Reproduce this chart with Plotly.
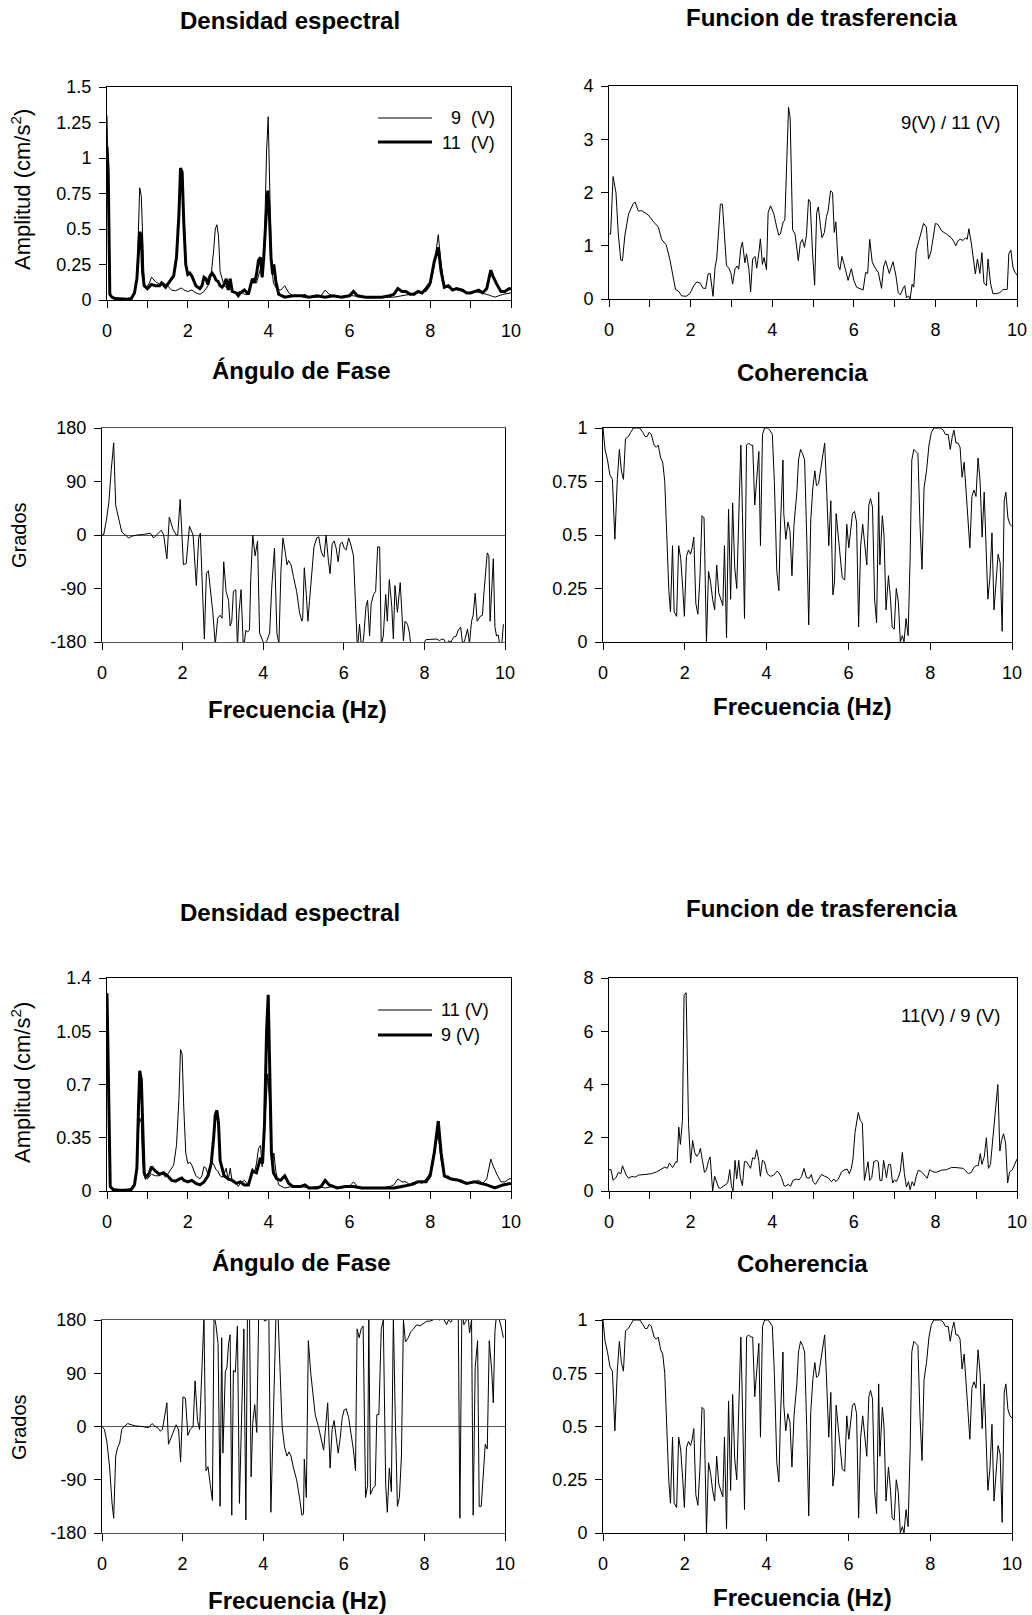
import plotly.graph_objects as go

W, H = 1032, 1615
FONT = "Liberation Sans, Arial, sans-serif"

# ---------------- data ----------------
freq_ticks_even = [0, 2, 4, 6, 8, 10]
freq_ticks_odd = [1, 3, 5, 7, 9]

dens_9 = [(0,1.30),(0.04,0.6),(0.08,0.03),(0.15,0.01),(0.3,0.005),(0.45,0.005),(0.6,0.01),(0.68,0.04),(0.74,0.15),(0.78,0.55),(0.81,0.79),(0.85,0.73),(0.88,0.4),(0.92,0.12),(0.96,0.09),(1.0,0.1),(1.05,0.12),(1.1,0.16),(1.2,0.13),(1.3,0.11),(1.4,0.12),(1.5,0.1),(1.6,0.07),(1.7,0.065),(1.8,0.08),(1.85,0.085),(1.9,0.07),(2.0,0.06),(2.1,0.07),(2.2,0.05),(2.3,0.04),(2.4,0.06),(2.5,0.1),(2.58,0.18),(2.64,0.35),(2.68,0.5),(2.72,0.53),(2.76,0.45),(2.8,0.2),(2.85,0.15),(2.9,0.1),(3.0,0.08),(3.1,0.07),(3.2,0.05),(3.3,0.06),(3.4,0.04),(3.5,0.04),(3.6,0.13),(3.7,0.12),(3.8,0.22),(3.85,0.18),(3.9,0.45),(3.95,1.05),(3.99,1.29),(4.03,0.8),(4.07,0.25),(4.12,0.12),(4.2,0.08),(4.3,0.07),(4.4,0.1),(4.5,0.05),(4.6,0.03),(4.8,0.03),(4.9,0.04),(5.0,0.02),(5.2,0.02),(5.3,0.03),(5.4,0.07),(5.5,0.04),(5.7,0.02),(5.9,0.03),(6.1,0.03),(6.3,0.02),(6.5,0.02),(6.7,0.02),(6.9,0.02),(7.1,0.02),(7.3,0.03),(7.5,0.04),(7.7,0.06),(7.9,0.06),(8.0,0.1),(8.1,0.25),(8.2,0.46),(8.27,0.25),(8.35,0.1),(8.5,0.08),(8.7,0.07),(8.9,0.05),(9.1,0.06),(9.3,0.05),(9.4,0.04),(9.5,0.03),(9.6,0.02),(9.8,0.04),(10,0.05)]

dens_11 = [(0,1.08),(0.03,0.9),(0.07,0.04),(0.12,0.02),(0.2,0.01),(0.35,0.005),(0.5,0.005),(0.6,0.01),(0.68,0.05),(0.74,0.15),(0.78,0.4),(0.81,0.48),(0.85,0.45),(0.88,0.2),(0.92,0.1),(1.0,0.08),(1.1,0.11),(1.2,0.1),(1.3,0.1),(1.35,0.12),(1.45,0.09),(1.55,0.13),(1.65,0.17),(1.72,0.3),(1.78,0.6),(1.82,0.93),(1.86,0.9),(1.9,0.55),(1.95,0.25),(2.0,0.18),(2.05,0.19),(2.1,0.17),(2.2,0.1),(2.3,0.08),(2.35,0.1),(2.4,0.16),(2.45,0.15),(2.5,0.11),(2.55,0.17),(2.6,0.19),(2.65,0.17),(2.7,0.14),(2.75,0.13),(2.8,0.1),(2.85,0.09),(2.9,0.11),(2.95,0.15),(3.0,0.07),(3.05,0.15),(3.1,0.06),(3.2,0.05),(3.25,0.03),(3.3,0.05),(3.4,0.07),(3.5,0.04),(3.55,0.1),(3.6,0.15),(3.65,0.12),(3.7,0.18),(3.75,0.28),(3.8,0.3),(3.84,0.16),(3.88,0.3),(3.93,0.55),(3.98,0.77),(4.02,0.6),(4.06,0.3),(4.1,0.18),(4.13,0.25),(4.18,0.13),(4.25,0.04),(4.4,0.02),(4.6,0.03),(4.8,0.03),(5.0,0.02),(5.2,0.03),(5.4,0.02),(5.6,0.03),(5.8,0.02),(6.0,0.03),(6.1,0.06),(6.2,0.03),(6.4,0.02),(6.6,0.02),(6.8,0.02),(7.0,0.03),(7.1,0.04),(7.2,0.08),(7.3,0.06),(7.4,0.06),(7.5,0.04),(7.6,0.04),(7.7,0.06),(7.8,0.05),(7.9,0.08),(8.0,0.12),(8.1,0.27),(8.2,0.37),(8.27,0.2),(8.35,0.09),(8.45,0.1),(8.55,0.07),(8.65,0.08),(8.8,0.07),(8.9,0.05),(9.0,0.05),(9.1,0.06),(9.2,0.07),(9.3,0.05),(9.4,0.08),(9.5,0.21),(9.55,0.17),(9.65,0.11),(9.75,0.06),(9.85,0.06),(9.95,0.08),(10,0.08)]

transfer_9_11 = [(0,1.22),(0.04,1.22),(0.1,2.3),(0.17,2.0),(0.23,1.2),(0.29,0.73),(0.33,0.72),(0.39,1.2),(0.48,1.6),(0.6,1.8),(0.64,1.82),(0.72,1.65),(0.8,1.66),(0.96,1.58),(1.09,1.45),(1.21,1.35),(1.29,1.12),(1.4,1.02),(1.49,0.75),(1.58,0.35),(1.63,0.18),(1.7,0.15),(1.78,0.06),(1.89,0.05),(1.98,0.1),(2.08,0.25),(2.15,0.32),(2.23,0.3),(2.31,0.2),(2.37,0.2),(2.43,0.47),(2.48,0.48),(2.55,0.05),(2.6,0.6),(2.64,0.75),(2.73,1.78),(2.78,1.78),(2.88,0.62),(2.94,0.58),(2.99,0.48),(3.03,0.28),(3.09,0.57),(3.14,0.62),(3.18,0.56),(3.23,0.95),(3.27,1.07),(3.33,0.68),(3.37,0.85),(3.43,0.55),(3.47,0.13),(3.52,0.75),(3.58,0.8),(3.62,0.58),(3.67,0.85),(3.71,1.13),(3.76,0.65),(3.8,0.78),(3.86,0.55),(3.9,1.62),(3.96,1.75),(4.04,1.6),(4.11,1.35),(4.16,1.2),(4.2,1.22),(4.27,1.45),(4.31,1.48),(4.35,2.6),(4.4,3.6),(4.44,3.4),(4.5,1.3),(4.56,1.22),(4.6,0.95),(4.64,0.72),(4.69,1.05),(4.74,1.12),(4.79,0.97),(4.84,1.2),(4.89,1.87),(4.93,1.83),(4.99,0.85),(5.04,0.26),(5.09,1.62),(5.13,1.73),(5.18,1.4),(5.22,1.15),(5.28,1.25),(5.33,1.55),(5.37,1.65),(5.43,2.03),(5.48,2.0),(5.52,1.25),(5.56,1.45),(5.62,0.62),(5.66,0.55),(5.71,0.8),(5.78,0.6),(5.86,0.35),(5.94,0.57),(6.0,0.35),(6.07,0.22),(6.15,0.2),(6.23,0.17),(6.29,0.5),(6.34,0.48),(6.39,1.12),(6.45,0.7),(6.51,0.6),(6.6,0.5),(6.68,0.2),(6.73,0.6),(6.78,0.72),(6.87,0.48),(6.96,0.7),(7.03,0.45),(7.09,0.12),(7.14,0.08),(7.21,0.2),(7.25,0.25),(7.29,0.02),(7.34,0.06),(7.38,0.0),(7.43,0.28),(7.47,0.22),(7.53,0.9),(7.58,1.05),(7.66,1.25),(7.71,1.42),(7.78,1.35),(7.83,0.75),(7.89,0.88),(7.94,1.1),(8.0,1.42),(8.06,1.4),(8.15,1.28),(8.27,1.22),(8.39,1.15),(8.45,1.08),(8.5,1.0),(8.56,1.1),(8.61,1.12),(8.68,1.1),(8.74,1.15),(8.78,1.12),(8.82,1.32),(8.88,1.05),(8.94,0.7),(8.98,0.47),(9.03,0.75),(9.09,0.48),(9.14,0.87),(9.19,0.3),(9.25,0.25),(9.29,0.75),(9.35,0.3),(9.41,0.1),(9.49,0.1),(9.58,0.12),(9.66,0.18),(9.76,0.18),(9.8,0.85),(9.85,0.92),(9.9,0.6),(9.95,0.5),(10,0.45)]

transfer_11_9 = [(0,0.8),(0.05,0.8),(0.1,0.4),(0.17,0.5),(0.23,0.7),(0.29,0.65),(0.33,0.95),(0.42,0.6),(0.48,0.48),(0.56,0.55),(0.64,0.52),(0.73,0.6),(0.88,0.62),(1.04,0.65),(1.17,0.72),(1.29,0.82),(1.37,0.9),(1.43,0.85),(1.48,1.05),(1.56,0.88),(1.64,1.1),(1.67,1.08),(1.71,2.4),(1.75,1.75),(1.8,2.65),(1.84,7.35),(1.89,7.45),(1.95,2.5),(2.0,1.05),(2.05,1.9),(2.1,1.45),(2.15,1.3),(2.2,1.4),(2.24,1.6),(2.29,1.1),(2.34,0.7),(2.39,0.8),(2.44,1.15),(2.48,1.28),(2.54,0.0),(2.59,0.55),(2.64,0.35),(2.69,0.12),(2.73,0.1),(2.8,0.18),(2.87,0.25),(2.91,0.3),(2.96,0.8),(3.0,0.2),(3.04,0.0),(3.09,1.15),(3.13,0.45),(3.18,1.15),(3.22,0.5),(3.27,0.2),(3.32,1.1),(3.37,1.1),(3.43,0.95),(3.47,0.85),(3.52,1.25),(3.57,1.2),(3.62,1.55),(3.67,1.15),(3.71,0.55),(3.76,1.15),(3.81,1.1),(3.88,0.65),(3.96,0.55),(4.04,0.6),(4.12,0.75),(4.17,0.68),(4.23,0.5),(4.29,0.2),(4.33,0.18),(4.39,0.25),(4.45,0.18),(4.51,0.4),(4.6,0.45),(4.66,0.42),(4.72,0.55),(4.78,0.85),(4.84,0.5),(4.91,0.48),(4.96,0.62),(5.0,0.35),(5.06,0.25),(5.13,0.45),(5.21,0.62),(5.29,0.55),(5.37,0.5),(5.45,0.35),(5.51,0.45),(5.56,0.35),(5.62,0.45),(5.7,0.72),(5.78,0.8),(5.84,0.82),(5.89,0.65),(5.94,0.85),(5.98,1.2),(6.03,2.2),(6.07,2.6),(6.11,2.95),(6.16,2.65),(6.21,2.55),(6.26,0.4),(6.31,0.75),(6.35,1.1),(6.39,0.4),(6.44,0.5),(6.49,1.1),(6.56,1.15),(6.6,1.1),(6.64,0.4),(6.69,0.4),(6.73,1.15),(6.77,0.8),(6.8,0.5),(6.85,1.0),(6.9,1.0),(6.95,0.3),(7.0,0.42),(7.04,0.35),(7.09,0.5),(7.14,0.75),(7.19,1.45),(7.24,0.65),(7.29,0.15),(7.34,0.35),(7.38,0.05),(7.43,0.35),(7.48,0.2),(7.53,0.55),(7.58,0.78),(7.66,0.72),(7.74,0.6),(7.8,0.48),(7.86,0.8),(7.94,0.72),(8.02,0.7),(8.15,0.78),(8.27,0.8),(8.39,0.88),(8.51,0.88),(8.68,0.85),(8.81,0.65),(8.88,0.7),(8.95,0.9),(9.0,0.95),(9.05,0.95),(9.1,1.4),(9.14,1.0),(9.2,1.3),(9.25,2.0),(9.3,0.85),(9.35,1.0),(9.41,2.0),(9.48,3.1),(9.53,4.0),(9.58,1.5),(9.62,1.9),(9.67,2.15),(9.72,1.8),(9.77,0.3),(9.82,0.72),(9.88,0.78),(9.94,1.0),(10,1.2)]

phase_9_11 = [(0.0,0),(0.04,0),(0.11,25),(0.17,55),(0.23,110),(0.29,155),(0.34,50),(0.39,35),(0.44,25),(0.49,5),(0.58,0),(0.66,-5),(0.74,-2),(0.87,0),(1.03,1),(1.2,3),(1.28,-5),(1.36,0),(1.47,8),(1.53,0),(1.61,-40),(1.67,30),(1.76,10),(1.84,0),(1.88,0),(1.94,60),(2.02,-50),(2.09,-48),(2.17,15),(2.26,0),(2.34,-85),(2.4,-5),(2.44,3),(2.54,-175),(2.59,-65),(2.64,-60),(2.7,-95),(2.75,-130),(2.81,-185),(2.87,-140),(2.93,-135),(2.98,-140),(3.02,-45),(3.08,-95),(3.14,-110),(3.18,-153),(3.22,-145),(3.26,-95),(3.32,-92),(3.36,-190),(3.4,-130),(3.45,-92),(3.51,-193),(3.57,-160),(3.61,-163),(3.66,-160),(3.69,-75),(3.74,0),(3.8,-35),(3.86,-10),(3.91,-165),(3.97,-175),(4.02,-183),(4.09,-178),(4.16,-165),(4.21,-90),(4.28,-22),(4.34,-165),(4.39,-183),(4.44,-60),(4.49,-5),(4.55,-30),(4.59,-50),(4.63,-43),(4.69,-50),(4.75,-70),(4.83,-95),(4.9,-130),(4.96,-145),(4.98,-140),(5.02,-55),(5.07,-100),(5.11,-145),(5.15,-110),(5.21,-60),(5.26,-20),(5.33,-5),(5.38,-3),(5.43,-25),(5.48,-35),(5.51,-37),(5.56,0),(5.62,-45),(5.66,-65),(5.71,-15),(5.76,-10),(5.81,-22),(5.86,-45),(5.91,-15),(5.96,-12),(6.01,-22),(6.06,-25),(6.12,-5),(6.17,-15),(6.24,-35),(6.29,-110),(6.34,-195),(6.39,-150),(6.44,-190),(6.49,-175),(6.55,-120),(6.59,-110),(6.64,-170),(6.68,-115),(6.74,-100),(6.79,-95),(6.84,-20),(6.89,-20),(6.93,-185),(6.98,-170),(7.04,-100),(7.08,-145),(7.13,-75),(7.19,-120),(7.23,-175),(7.27,-85),(7.33,-130),(7.4,-80),(7.44,-120),(7.48,-178),(7.52,-145),(7.58,-150),(7.63,-165),(7.67,-192),(7.73,-188),(7.81,-183),(7.89,-185),(7.98,-182),(8.04,-176),(8.14,-176),(8.22,-176),(8.31,-175),(8.37,-178),(8.43,-175),(8.49,-176),(8.55,-185),(8.6,-178),(8.66,-180),(8.72,-172),(8.79,-170),(8.84,-160),(8.9,-155),(8.95,-185),(9.01,-175),(9.07,-158),(9.12,-182),(9.17,-145),(9.21,-135),(9.26,-98),(9.31,-145),(9.38,-137),(9.44,-135),(9.48,-95),(9.53,-55),(9.56,-30),(9.6,-35),(9.63,-145),(9.68,-80),(9.71,-40),(9.75,-155),(9.79,-170),(9.83,-168),(9.88,-188),(9.92,-185),(9.96,-150)]

phase_11_9 = [(0.0,0),(0.06,-5),(0.12,-25),(0.19,-70),(0.25,-130),(0.29,-155),(0.34,-50),(0.39,-35),(0.44,-28),(0.49,-5),(0.55,0),(0.64,5),(0.72,3),(0.83,1),(0.99,0),(1.16,-2),(1.24,5),(1.32,0),(1.38,-2),(1.45,-8),(1.5,-5),(1.56,20),(1.61,40),(1.65,-30),(1.71,-20),(1.78,-5),(1.84,3),(1.9,-5),(1.95,-60),(2.01,50),(2.07,48),(2.13,-15),(2.19,-5),(2.26,0),(2.31,77),(2.37,10),(2.42,-5),(2.47,80),(2.53,185),(2.58,-75),(2.63,-68),(2.69,-100),(2.74,-125),(2.78,190),(2.83,170),(2.88,140),(2.93,-135),(2.97,150),(3.0,-45),(3.06,92),(3.1,100),(3.14,140),(3.18,155),(3.22,-150),(3.26,95),(3.31,92),(3.36,170),(3.41,-130),(3.46,0),(3.52,165),(3.57,-158),(3.61,193),(3.66,195),(3.7,-85),(3.74,5),(3.79,37),(3.84,-10),(3.89,198),(3.95,185),(4.01,180),(4.06,178),(4.12,185),(4.14,185),(4.19,-145),(4.26,30),(4.32,195),(4.37,185),(4.42,100),(4.47,0),(4.53,-35),(4.59,-50),(4.64,-43),(4.69,-50),(4.75,-70),(4.83,-90),(4.9,-120),(4.96,-150),(5.0,-148),(5.02,-55),(5.07,-120),(5.12,145),(5.18,90),(5.25,40),(5.29,20),(5.37,0),(5.43,-20),(5.5,-40),(5.55,0),(5.6,40),(5.66,-70),(5.71,-5),(5.76,10),(5.81,-15),(5.86,-45),(5.91,-20),(5.96,15),(6.01,28),(6.06,30),(6.12,15),(6.17,-10),(6.24,-40),(6.29,-75),(6.33,165),(6.38,150),(6.43,165),(6.48,170),(6.54,-120),(6.59,-100),(6.62,190),(6.66,-115),(6.72,-105),(6.78,-100),(6.82,20),(6.87,20),(6.93,165),(6.98,180),(7.04,-100),(7.08,-145),(7.13,-70),(7.18,-110),(7.23,187),(7.27,40),(7.33,-135),(7.38,-120),(7.43,-50),(7.48,180),(7.53,143),(7.6,150),(7.66,160),(7.73,165),(7.81,172),(7.89,170),(7.98,174),(8.06,178),(8.14,178),(8.22,180),(8.31,183),(8.37,180),(8.43,183),(8.49,180),(8.55,172),(8.6,180),(8.66,176),(8.72,185),(8.79,187),(8.84,190),(8.88,-155),(8.93,198),(8.98,172),(9.03,178),(9.08,190),(9.12,158),(9.17,180),(9.21,-150),(9.26,100),(9.32,145),(9.36,-135),(9.41,-135),(9.46,-80),(9.51,-30),(9.56,-38),(9.61,145),(9.67,95),(9.71,40),(9.75,160),(9.79,190),(9.84,185),(9.9,170),(9.96,150)]

coherence = [(0,1.0),(0.05,0.9),(0.11,0.85),(0.17,0.78),(0.23,0.76),(0.29,0.48),(0.35,0.76),(0.4,0.9),(0.45,0.8),(0.5,0.76),(0.55,0.95),(0.62,0.96),(0.68,0.98),(0.74,1.0),(0.82,1.0),(0.9,1.0),(0.97,0.98),(1.03,0.96),(1.08,0.96),(1.13,0.98),(1.18,0.97),(1.25,0.92),(1.3,0.91),(1.35,0.92),(1.41,0.86),(1.46,0.84),(1.51,0.75),(1.56,0.45),(1.61,0.24),(1.65,0.14),(1.7,0.45),(1.74,0.14),(1.8,0.12),(1.85,0.45),(1.9,0.39),(1.95,0.25),(1.99,0.12),(2.04,0.4),(2.09,0.43),(2.14,0.41),(2.18,0.44),(2.22,0.49),(2.27,0.18),(2.32,0.13),(2.37,0.3),(2.42,0.59),(2.47,0.58),(2.53,0.0),(2.58,0.33),(2.63,0.28),(2.68,0.2),(2.73,0.15),(2.78,0.36),(2.83,0.23),(2.88,0.2),(2.93,0.17),(2.97,0.45),(3.02,0.02),(3.07,0.62),(3.12,0.2),(3.17,0.65),(3.22,0.35),(3.27,0.25),(3.32,0.6),(3.37,0.92),(3.41,0.6),(3.46,0.11),(3.51,0.92),(3.56,0.93),(3.61,0.92),(3.66,0.92),(3.71,0.64),(3.76,0.78),(3.81,0.89),(3.85,0.45),(3.9,0.97),(3.95,1.0),(4.02,1.0),(4.08,0.99),(4.14,0.97),(4.19,0.75),(4.25,0.33),(4.3,0.24),(4.34,0.55),(4.4,0.85),(4.42,0.6),(4.47,0.48),(4.52,0.56),(4.57,0.52),(4.62,0.31),(4.67,0.55),(4.74,0.7),(4.78,0.85),(4.83,0.9),(4.88,0.88),(4.93,0.85),(4.98,0.5),(5.03,0.08),(5.08,0.57),(5.13,0.72),(5.18,0.8),(5.22,0.73),(5.27,0.74),(5.32,0.8),(5.37,0.88),(5.42,0.93),(5.47,0.7),(5.52,0.45),(5.57,0.66),(5.62,0.22),(5.66,0.28),(5.7,0.6),(5.75,0.5),(5.8,0.38),(5.85,0.3),(5.91,0.29),(5.96,0.55),(6.01,0.44),(6.06,0.55),(6.1,0.6),(6.15,0.61),(6.2,0.56),(6.25,0.07),(6.3,0.45),(6.35,0.55),(6.4,0.45),(6.45,0.36),(6.5,0.64),(6.54,0.67),(6.59,0.63),(6.64,0.2),(6.69,0.09),(6.74,0.7),(6.77,0.36),(6.83,0.59),(6.87,0.5),(6.92,0.15),(6.98,0.31),(7.03,0.2),(7.07,0.07),(7.12,0.06),(7.17,0.25),(7.22,0.19),(7.27,0.0),(7.32,0.03),(7.36,0.0),(7.41,0.11),(7.46,0.03),(7.51,0.4),(7.55,0.85),(7.6,0.9),(7.65,0.89),(7.7,0.88),(7.75,0.55),(7.8,0.34),(7.85,0.72),(7.91,0.8),(7.97,0.92),(8.03,0.98),(8.09,1.0),(8.17,1.0),(8.25,1.0),(8.32,0.99),(8.37,0.97),(8.44,0.97),(8.49,0.9),(8.54,0.96),(8.58,0.99),(8.63,0.93),(8.68,0.93),(8.73,0.91),(8.78,0.77),(8.83,0.84),(8.88,0.7),(8.93,0.6),(8.97,0.44),(9.02,0.68),(9.07,0.71),(9.12,0.68),(9.17,0.86),(9.22,0.75),(9.27,0.49),(9.32,0.7),(9.36,0.47),(9.41,0.2),(9.46,0.3),(9.51,0.51),(9.56,0.15),(9.61,0.3),(9.66,0.41),(9.71,0.37),(9.76,0.05),(9.81,0.66),(9.85,0.7),(9.9,0.58),(9.95,0.55),(10,0.54)]

dens_top_ticks = [0, 0.25, 0.5, 0.75, 1, 1.25, 1.5]
dens_top_labels = ["0", "0.25", "0.5", "0.75", "1", "1.25", "1.5"]
dens_bot_ticks = [0, 0.35, 0.7, 1.05, 1.4]
dens_bot_labels = ["0", "0.35", "0.7", "1.05", "1.4"]
phase_ticks = [-180, -90, 0, 90, 180]
phase_labels = ["-180", "-90", "0", "90", "180"]
coh_ticks = [0, 0.25, 0.5, 0.75, 1]
coh_labels = ["0", "0.25", "0.5", "0.75", "1"]


def xs(pairs):
    return [p[0] for p in pairs]


def ys(pairs):
    return [p[1] for p in pairs]


def PX(px):
    return px / W


def PY(py):
    return 1 - py / H


# panel pixel boxes: (left, right, top, bottom)
panels = [
    (107, 511, 87, 300),    # 1 density top
    (609, 1017, 86, 299),   # 2 transfer top
    (102, 505, 428, 642),   # 3 phase top
    (603, 1012, 428, 642),  # 4 coherence top
    (107, 511, 978, 1191),  # 5 density bottom
    (609, 1017, 978, 1191), # 6 transfer bottom
    (102, 505, 1320, 1533), # 7 phase bottom
    (603, 1012, 1320, 1533) # 8 coherence bottom
]

fig = go.Figure()


def add(pairs, i, width=1):
    fig.add_trace(go.Scatter(
        x=xs(pairs), y=ys(pairs), mode="lines",
        line=dict(color="black", width=width),
        xaxis=f"x{i}", yaxis=f"y{i}", showlegend=False, hoverinfo="skip"))


add(dens_9, 1, 1)
add(dens_11, 1, 3)
add(transfer_9_11, 2)
add(phase_9_11, 3)
add(coherence, 4)
add(dens_11, 5, 1)
add(dens_9, 5, 3)
add(transfer_11_9, 6)
add(phase_11_9, 7)
add(coherence, 8)

tickfont = dict(family=FONT, size=18, color="black")
layout = {}
for k, (l, r, t, b) in enumerate(panels, start=1):
    fine = k in (1, 2, 5, 6)
    xa = dict(
        domain=[PX(l), PX(r)], anchor=f"y{k}", range=[0, 10],
        tickmode="array", tickvals=freq_ticks_even,
        ticktext=[str(v) for v in freq_ticks_even],
        ticks="outside", ticklen=7, tickcolor="black", tickwidth=1,
        showline=True, linecolor="black", linewidth=1, mirror=True,
        showgrid=False, zeroline=False, tickfont=tickfont,
        automargin=False, ticklabelstandoff=7,
    )
    if fine:
        xa["minor"] = dict(tickmode="array", tickvals=freq_ticks_odd, ticks="outside",
                           ticklen=7, tickcolor="black", tickwidth=1, showgrid=False)
    ya = dict(
        domain=[PY(b), PY(t)], anchor=f"x{k}",
        ticks="outside", ticklen=7, tickcolor="black", tickwidth=1,
        showline=True, linecolor="black", linewidth=1, mirror=True,
        showgrid=False, zeroline=False, tickfont=tickfont, tickmode="array",
        automargin=False, ticklabelstandoff=4,
    )
    if k == 1:
        ya.update(range=[0, 1.5], tickvals=dens_top_ticks, ticktext=dens_top_labels)
    elif k == 5:
        ya.update(range=[0, 1.4], tickvals=dens_bot_ticks, ticktext=dens_bot_labels)
    elif k == 2:
        ya.update(range=[0, 4], tickvals=[0, 1, 2, 3, 4], ticktext=["0", "1", "2", "3", "4"])
    elif k == 6:
        ya.update(range=[0, 8], tickvals=[0, 2, 4, 6, 8], ticktext=["0", "2", "4", "6", "8"])
    elif k in (3, 7):
        ya.update(range=[-180, 180], tickvals=phase_ticks, ticktext=phase_labels,
                  zeroline=True, zerolinecolor="#555555", zerolinewidth=1)
        xa.update(linecolor="#555555")
    else:
        ya.update(range=[0, 1], tickvals=coh_ticks, ticktext=coh_labels)
    layout[f"xaxis{k}"] = xa
    layout[f"yaxis{k}"] = ya

annotations = []


def text(s, x, y, size=17, bold=False, angle=0, xanchor="center"):
    annotations.append(dict(
        text=f"<b>{s}</b>" if bold else s, x=PX(x), y=PY(y),
        xref="paper", yref="paper", showarrow=False, xanchor=xanchor,
        yanchor="middle", textangle=angle,
        font=dict(family=FONT, size=size, color="black")))


for yoff in (0, 891):
    text("Densidad espectral", 290, 21 + yoff, 24, True)
    text("Funcion de trasferencia", 821, 17 + yoff, 24, True)
    text("Ángulo de Fase", 301, 371 + yoff, 24, True)
    text("Coherencia", 802, 372 + yoff, 24, True)
    text("Frecuencia (Hz)", 297, 709 + yoff, 24, True)
    text("Frecuencia (Hz)", 802, 706 + yoff, 24, True)

text("Amplitud (cm/s<sup>2</sup>)", 21, 190, 22, angle=-90)
text("Amplitud (cm/s<sup>2</sup>)", 21, 1083, 22, angle=-90)
text("Grados", 19, 535, 20, angle=-90)
text("Grados", 19, 1427, 20, angle=-90)

text("9(V) / 11 (V)", 950, 123, 18.5)
text("11(V) / 9 (V)", 950, 1015, 18.5)

# legends
shapes = []


def leg_line(y, width, x0=378, x1=432):
    shapes.append(dict(type="line", xref="paper", yref="paper",
                       x0=PX(x0), x1=PX(x1), y0=PY(y), y1=PY(y),
                       line=dict(color="black", width=width)))


leg_line(118, 1)
leg_line(142, 3)
text("9  (V)", 497, 118, 18, xanchor="right")
text("11  (V)", 497, 143, 18, xanchor="right")
leg_line(1010, 1)
leg_line(1035, 3)
text("11 (V)", 439, 1010, 18, xanchor="left")
text("9 (V)", 439, 1035, 18, xanchor="left")

fig.update_layout(
    width=W, height=H, margin=dict(l=0, r=0, t=0, b=0, pad=0),
    autosize=False, template="none",
    paper_bgcolor="white", plot_bgcolor="white",
    annotations=annotations, shapes=shapes, showlegend=False,
    **layout)

fig.write_html("out.html", config={"displayModeBar": False},
               post_script="document.body.style.margin='0px';document.body.style.overflow='hidden';")
